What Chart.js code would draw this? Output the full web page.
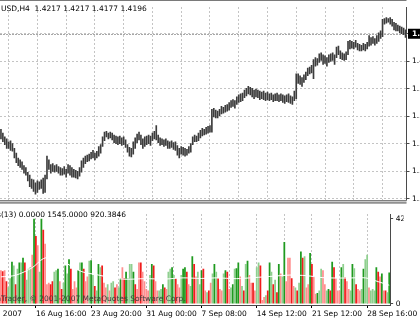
<!DOCTYPE html>
<html lang="en">
<head>
<meta charset="UTF-8">
<title>EURUSD,H4</title>
<script src="https://cdn.jsdelivr.net/npm/chart.js"></script>
<style>
  body { margin: 0; background: #fff; }
  #wrap { position: relative; width: 420px; height: 323px; overflow: hidden; background: #fff; }
  #priceChart { position: absolute; left: 0; top: 0; }
  #volChart { position: absolute; left: 0; top: 207px; }
</style>
</head>
<body>
<div id="wrap">
  <canvas id="priceChart" width="420" height="207"></canvas>
  <canvas id="volChart" width="420" height="116"></canvas>
</div>
<script>
// H4 bars, high / low of each bar
var barHigh = [
  1.3696, 1.3676, 1.3656, 1.3646, 1.3631, 1.3636, 1.3621, 1.3596, 1.3571, 1.3546,
  1.3536, 1.3526, 1.3506, 1.3496, 1.3471, 1.3456, 1.3436, 1.3431, 1.3416, 1.3426,
  1.3421, 1.3431, 1.3441, 1.3456, 1.3556, 1.3536, 1.3511, 1.3516, 1.3506, 1.3511,
  1.3501, 1.3496, 1.3491, 1.3501, 1.3486, 1.3511, 1.3506, 1.3496, 1.3486, 1.3481,
  1.3476, 1.3496, 1.3531, 1.3546, 1.3556, 1.3561, 1.3566, 1.3576, 1.3586, 1.3571,
  1.3581, 1.3606, 1.3616, 1.3656, 1.3681, 1.3686, 1.3676, 1.3681, 1.3676, 1.3666,
  1.3661, 1.3656, 1.3661, 1.3651, 1.3656, 1.3641, 1.3616, 1.3601, 1.3596, 1.3631,
  1.3651, 1.3671, 1.3681, 1.3666, 1.3646, 1.3656, 1.3661, 1.3666, 1.3661, 1.3676,
  1.3686, 1.3716, 1.3666, 1.3651, 1.3646, 1.3641, 1.3646, 1.3636, 1.3631, 1.3636,
  1.3626, 1.3631, 1.3611, 1.3596, 1.3606, 1.3601, 1.3596, 1.3591, 1.3606, 1.3621,
  1.3656, 1.3666, 1.3661, 1.3676, 1.3691, 1.3701, 1.3696, 1.3706, 1.3711, 1.3716,
  1.3801, 1.3806, 1.3796, 1.3791, 1.3801, 1.3816, 1.3811, 1.3821, 1.3826, 1.3836,
  1.3846, 1.3851, 1.3846, 1.3866, 1.3876, 1.3881, 1.3886, 1.3901, 1.3911, 1.3921,
  1.3916, 1.3911, 1.3901, 1.3906, 1.3901, 1.3896, 1.3891, 1.3896, 1.3886, 1.3891,
  1.3881, 1.3886, 1.3876, 1.3881, 1.3886, 1.3876, 1.3881, 1.3876, 1.3871, 1.3876,
  1.3881, 1.3871, 1.3866, 1.3896, 1.3986, 1.3986, 1.3976, 1.3966, 1.3981, 1.3996,
  1.4016, 1.4021, 1.4031, 1.4061, 1.4071, 1.4066, 1.4091, 1.4096, 1.4086, 1.4081,
  1.4071, 1.4086, 1.4091, 1.4096, 1.4086, 1.4126, 1.4131, 1.4106, 1.4096, 1.4091,
  1.4101, 1.4156, 1.4161, 1.4156, 1.4151, 1.4161, 1.4146, 1.4141, 1.4136, 1.4146,
  1.4141, 1.4151, 1.4186, 1.4176, 1.4181, 1.4171, 1.4186, 1.4201, 1.4211, 1.4271,
  1.4276, 1.4281, 1.4276, 1.4281, 1.4271, 1.4256, 1.4251, 1.4241, 1.4236, 1.4231,
  1.4226, 1.4217
];
var barLow = [
  1.3646, 1.3631, 1.3616, 1.3596, 1.3596, 1.3586, 1.3581, 1.3546, 1.3521, 1.3506,
  1.3496, 1.3486, 1.3466, 1.3456, 1.3426, 1.3396, 1.3386, 1.3371, 1.3356, 1.3366,
  1.3381, 1.3386, 1.3361, 1.3366, 1.3436, 1.3486, 1.3466, 1.3476, 1.3471, 1.3476,
  1.3466, 1.3456, 1.3456, 1.3461, 1.3446, 1.3466, 1.3456, 1.3446, 1.3446, 1.3441,
  1.3436, 1.3451, 1.3471, 1.3496, 1.3516, 1.3526, 1.3531, 1.3541, 1.3546, 1.3536,
  1.3546, 1.3556, 1.3571, 1.3606, 1.3636, 1.3656, 1.3646, 1.3651, 1.3641, 1.3626,
  1.3621, 1.3616, 1.3621, 1.3611, 1.3616, 1.3601, 1.3576, 1.3556, 1.3551, 1.3566,
  1.3596, 1.3626, 1.3641, 1.3616, 1.3596, 1.3606, 1.3616, 1.3621, 1.3611, 1.3636,
  1.3646, 1.3641, 1.3626, 1.3611, 1.3616, 1.3606, 1.3611, 1.3596, 1.3596, 1.3601,
  1.3591, 1.3586, 1.3561, 1.3546, 1.3566, 1.3561, 1.3556, 1.3561, 1.3571, 1.3576,
  1.3616, 1.3631, 1.3631, 1.3636, 1.3651, 1.3661, 1.3666, 1.3671, 1.3676, 1.3681,
  1.3681, 1.3761, 1.3756, 1.3756, 1.3766, 1.3776, 1.3781, 1.3786, 1.3791, 1.3796,
  1.3811, 1.3816, 1.3806, 1.3826, 1.3836, 1.3841, 1.3846, 1.3861, 1.3871, 1.3881,
  1.3876, 1.3866, 1.3856, 1.3866, 1.3861, 1.3851, 1.3856, 1.3851, 1.3846, 1.3851,
  1.3846, 1.3851, 1.3841, 1.3846, 1.3846, 1.3841, 1.3846, 1.3836, 1.3831, 1.3841,
  1.3836, 1.3831, 1.3826, 1.3846, 1.3856, 1.3936, 1.3931, 1.3921, 1.3941, 1.3956,
  1.3976, 1.3986, 1.3991, 1.3961, 1.4026, 1.4031, 1.4046, 1.4056, 1.4036, 1.4041,
  1.4026, 1.4046, 1.4051, 1.4056, 1.4036, 1.4071, 1.4086, 1.4066, 1.4061, 1.4056,
  1.4061, 1.4086, 1.4116, 1.4121, 1.4116, 1.4126, 1.4111, 1.4106, 1.4106, 1.4111,
  1.4106, 1.4116, 1.4131, 1.4136, 1.4146, 1.4136, 1.4146, 1.4156, 1.4171, 1.4181,
  1.4246, 1.4251, 1.4256, 1.4246, 1.4236, 1.4216, 1.4211, 1.4211, 1.4201, 1.4196,
  1.4191, 1.4177
];
var lastOpen = 1.4217;
var lastClose = 1.4196;

// tick volume per bar and its colour class (G/g up strong/weak, R/r down strong/weak)
var volume = [
  1650, 1600, 1650, 1105, 800, 1260, 2075, 1890, 950, 1730,
  2045, 2045, 2280, 2045, 1180, 1730, 1810, 2435, 4240, 3375,
  2905, 1575, 4240, 3690, 2985, 950, 1025, 950, 1105, 1575,
  1650, 1730, 1105, 715, 1025, 1890, 1495, 2200, 1730, 715,
  1105, 790, 1650, 2045, 2045, 1730, 1105, 1340, 2125, 2150,
  1420, 870, 635, 1965, 1810, 1890, 1025, 790, 950, 635,
  1025, 1105, 790, 950, 790, 1260, 1810, 1260, 1575, 1260,
  1965, 1965, 1575, 950, 715, 2045, 2045, 1575, 1105, 715,
  635, 1420, 1965, 1890, 1105, 635, 635, 715, 950, 790,
  715, 1575, 1730, 1810, 1420, 1260, 950, 790, 1420, 1730,
  1810, 1575, 950, 870, 2360, 1965, 1340, 1575, 950, 1650,
  1730, 635, 555, 635, 1025, 1495, 1965, 1575, 1260, 715,
  635, 1495, 1650, 1575, 715, 790, 950, 1730, 1760, 2045,
  1340, 870, 635, 1965, 2125, 1420, 1025, 1025, 635, 1810,
  2045, 1890, 165, 320, 400, 635, 2045, 1575, 950, 1180,
  555, 1965, 1495, 1340, 3065, 1105, 2280, 2280, 1260, 870,
  790, 635, 1025, 2590, 2280, 2360, 790, 950, 2515, 1965,
  1340, 480, 510, 635, 1730, 1650, 950, 635, 715, 635,
  2075, 1810, 1260, 635, 635, 1810, 1965, 1290, 1105, 715,
  635, 1965, 1760, 950, 715, 635, 715, 1730, 2200, 2435,
  790, 635, 715, 635, 1810, 1575, 1340, 1495, 635, 635,
  555, 1545
];
var volKind =
  'rRrRggGgRg' + 'GgGRgggrGR' + 'rgGRrrrRRg' + 'gGrRgGgGRr' + 'rrGgGRrrgG' +
  'gRgGgRrrgr' + 'ggRrgGrRGg' + 'ggGRrrRrrr' + 'rgGRrrggGR' + 'rggGgRrrgG' +
  'GRrgGRrggG' + 'RrgRrgGgRr' + 'rgGRrgGgGG' + 'rgRgGrrRrg' + 'gRrrgRGgRg' +
  'RGrgGrrrRr' + 'gRgGRgrrGR' + 'rrGggrrgGR' + 'GRrrrGgRrr' + 'gGgRrrgGgg' +
  'rgggGRrGrR' + 'gG';

// 13-period average of volume, read at a few bars
var maBar = [0, 8, 17, 23, 30, 36, 44, 52, 60, 68, 78, 89, 99, 109, 117, 128, 137, 149, 157, 166, 175, 188, 198, 205, 211];
var maValue = [1340, 1420, 1800, 2250, 2350, 2000, 1600, 1450, 1300, 1220, 1250, 1230, 1290, 1260, 1290, 1250, 1300, 1380, 1430, 1400, 1300, 1280, 1290, 1100, 920.3846];

// time axis
var gridBars = [4, 19, 34, 49, 64, 79, 94, 109, 124, 139, 154, 169, 184, 199];
var labelBars = [19, 49, 79, 109, 139, 169, 199];
var labelText = ['16 Aug 16:00', '23 Aug 20:00', '31 Aug 00:00', '7 Sep 08:00', '14 Sep 12:00', '21 Sep 12:00', '28 Sep 16:00'];
var firstLabelBar = -11;
var firstLabelText = '9 Aug 2007';

// price axis
var priceTicks = [1.3332, 1.3476, 1.3620, 1.3764, 1.3908, 1.4052, 1.4196];
var volTicks = [0, 4250];

var FONT_FAMILY = 'DejaVu Sans';
var FONT_SIZE = 7.5;
var FONT = FONT_SIZE + 'px "' + FONT_FAMILY + '"';
var GRID = '#c4c4c4';
var AXIS = '#4a4a4a';
var kindColor = { G: '#1f9a1f', g: '#8fcf8f', R: '#f01c1c', r: '#ff8f8f' };

Chart.defaults.font.family = FONT_FAMILY;
Chart.defaults.font.size = FONT_SIZE;

var nBars = barHigh.length;

function timeAxis(showLabels) {
  return {
    type: 'linear', min: -0.5, max: nBars - 0.5, offset: false,
    afterBuildTicks: function (s) { s.ticks = gridBars.map(function (v) { return { value: v }; }); },
    ticks: {
      display: showLabels, align: 'start', autoSkip: false, maxRotation: 0, padding: 2,
      color: '#000',
      callback: function (v) { var k = labelBars.indexOf(v); return k >= 0 ? labelText[k] : ''; }
    },
    grid: {
      color: GRID, offset: false, drawTicks: showLabels, tickLength: 3,
      tickColor: function (c) { return c.tick && labelBars.indexOf(c.tick.value) >= 0 ? '#000' : 'rgba(0,0,0,0)'; }
    },
    border: { display: showLabels, color: AXIS, width: 1, dash: [2, 2] },
    afterFit: function (s) { s.height = showLabels ? 18 : 0; }
  };
}

// price window decorations
var priceDecor = {
  id: 'priceDecor',
  beforeDatasetsDraw: function (chart) {
    var ctx = chart.ctx, a = chart.chartArea;
    var py = Math.round(chart.scales.y.getPixelForValue(lastClose)) + 0.5;
    ctx.save();
    ctx.strokeStyle = '#a8a8a8';
    ctx.lineWidth = 1;
    ctx.setLineDash([2, 1]);
    ctx.beginPath(); ctx.moveTo(a.left, py); ctx.lineTo(a.right, py); ctx.stroke();
    ctx.restore();
  },
  afterDraw: function (chart) {
    var ctx = chart.ctx, a = chart.chartArea;
    ctx.save();
    ctx.lineWidth = 1;
    ctx.strokeStyle = '#7a7a7a';
    ctx.beginPath(); ctx.moveTo(0, 0.5); ctx.lineTo(a.right, 0.5); ctx.stroke();
    // separator between windows
    ctx.fillStyle = '#c8c8c8';
    ctx.fillRect(0, a.bottom, a.right, 3);
    ctx.strokeStyle = '#808080';
    ctx.beginPath(); ctx.moveTo(0, a.bottom + 0.5); ctx.lineTo(a.right, a.bottom + 0.5); ctx.stroke();
    ctx.strokeStyle = '#5a5a5a';
    ctx.beginPath(); ctx.moveTo(0, a.bottom + 3); ctx.lineTo(a.right, a.bottom + 3); ctx.stroke();
    // title
    ctx.font = FONT;
    ctx.fillStyle = '#000';
    ctx.textBaseline = 'middle';
    ctx.textAlign = 'left';
    ctx.fillText('USD,H4  ' + lastOpen.toFixed(4) + ' ' + barHigh[nBars - 1].toFixed(4) + ' ' +
      barLow[nBars - 1].toFixed(4) + ' ' + lastClose.toFixed(4), 1, 9.5);
    // last price label
    var py = chart.scales.y.getPixelForValue(lastClose);
    ctx.fillStyle = '#000';
    ctx.fillRect(a.right + 1.5, py - 5, 16, 10);
    ctx.fillStyle = '#fff';
    ctx.font = 'bold ' + FONT;
    ctx.fillText(lastClose.toFixed(4), a.right + 5.5, py);
    ctx.restore();
  }
};

new Chart(document.getElementById('priceChart'), {
  type: 'bar',
  data: {
    datasets: [{
      data: barHigh.map(function (h, i) { return { x: i, y: [barLow[i], h] }; }),
      backgroundColor: '#3c3c3c',
      barThickness: 1,
      borderWidth: 0
    }]
  },
  options: {
    responsive: false, animation: false, devicePixelRatio: 1, events: [],
    layout: { padding: { top: 2, bottom: 3.5, left: 0, right: 0 } },
    plugins: { legend: { display: false }, tooltip: { enabled: false } },
    scales: {
      x: timeAxis(false),
      y: {
        position: 'right', min: 1.3326, max: 1.4336,
        afterBuildTicks: function (s) { s.ticks = priceTicks.map(function (v) { return { value: v }; }); },
        ticks: { color: '#000', padding: 2.5, callback: function (v) { return v.toFixed(4); } },
        grid: { color: GRID, tickLength: 3, tickColor: AXIS },
        border: { display: true, color: AXIS, width: 1, dash: [2, 2] },
        afterFit: function (s) { s.width = 13.5; }
      }
    }
  },
  plugins: [priceDecor]
});

// volume window decorations
var volDecor = {
  id: 'volDecor',
  afterDatasetsDraw: function (chart) {
    var ctx = chart.ctx;
    ctx.save();
    ctx.font = FONT;
    ctx.textBaseline = 'middle';
    ctx.fillStyle = '#3c3c3c';
    ctx.fillText('MetaTrader, \u00a9 2001-2007 MetaQuotes Software Corp.', -17.6, 92.5);
    ctx.fillStyle = '#000';
    var lastVol = volume[nBars - 1];
    var upVol = volKind.charAt(nBars - 1).toUpperCase() === 'G' ? lastVol : 0;
    ctx.fillText('s(13) ' + (lastVol - upVol).toFixed(4) + ' ' + upVol.toFixed(4) + ' ' +
      maValue[maValue.length - 1].toFixed(4), -3, 8);
    ctx.restore();
  },
  afterDraw: function (chart) {
    var ctx = chart.ctx, x = chart.scales.x;
    ctx.save();
    ctx.font = FONT;
    ctx.fillStyle = '#000';
    ctx.textBaseline = 'top';
    ctx.fillText(firstLabelText, x.getPixelForValue(firstLabelBar) - 2, x.top + 5);
    ctx.restore();
  }
};

new Chart(document.getElementById('volChart'), {
  data: {
    datasets: [{
      type: 'line',
      data: maBar.map(function (b, k) { return { x: b, y: maValue[k] }; }),
      borderColor: '#ffffff',
      borderWidth: 1,
      pointRadius: 0,
      tension: 0.3,
      order: 0
    }, {
      type: 'bar',
      data: volume.map(function (v, i) { return { x: i, y: v }; }),
      backgroundColor: volume.map(function (v, i) { return kindColor[volKind.charAt(i)]; }),
      barThickness: 1.1,
      borderWidth: 0,
      order: 1
    }]
  },
  options: {
    responsive: false, animation: false, devicePixelRatio: 1, events: [],
    layout: { padding: { top: 1, bottom: 0, left: 0, right: 0 } },
    plugins: { legend: { display: false }, tooltip: { enabled: false } },
    scales: {
      x: timeAxis(true),
      y: {
        position: 'right', min: -70, max: 4490,
        afterBuildTicks: function (s) { s.ticks = volTicks.map(function (v) { return { value: v }; }); },
        ticks: { color: '#000', padding: 2.5, callback: function (v) { return String(v); } },
        grid: { drawOnChartArea: false, tickLength: 3, tickColor: AXIS },
        border: { display: true, color: AXIS, width: 1 },
        afterFit: function (s) { s.width = 13.5; }
      }
    }
  },
  plugins: [volDecor]
});
</script>
</body>
</html>
